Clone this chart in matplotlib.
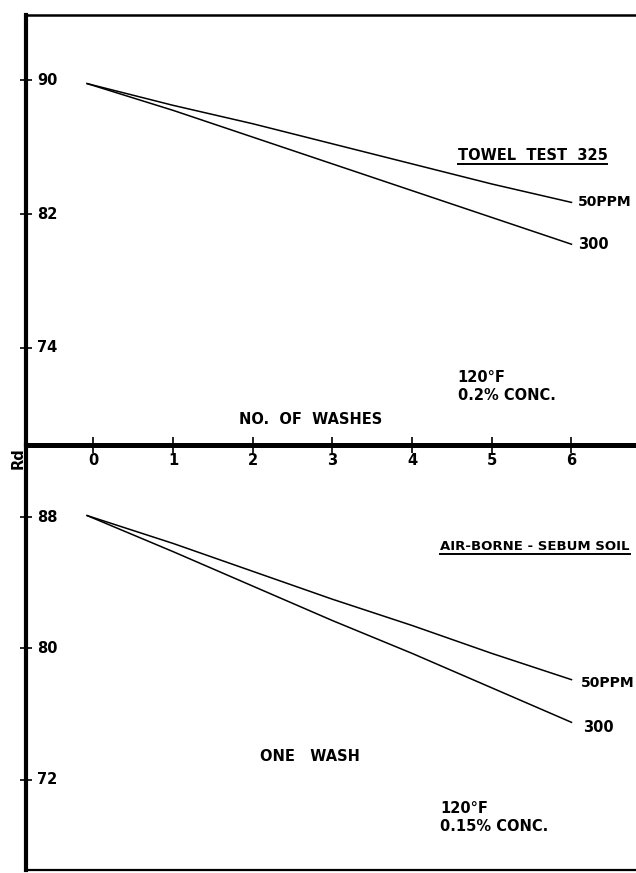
import matplotlib
matplotlib.use('Agg')
import matplotlib.pyplot as plt
import matplotlib.transforms as mtransforms
from matplotlib.lines import Line2D

# data
washes = [-0.08, 1, 2, 3, 4, 5, 6]
towel_50ppm = [89.8, 88.5, 87.4, 86.2, 85.0, 83.8, 82.7]
towel_300 = [89.8, 88.2, 86.6, 85.0, 83.4, 81.8, 80.2]
sebum_50ppm = [88.1, 86.4, 84.7, 83.0, 81.4, 79.7, 78.1]
sebum_300 = [88.1, 85.9, 83.8, 81.7, 79.7, 77.6, 75.5]

x_ticks = [0, 1, 2, 3, 4, 5, 6]
top_yticks = [90, 82, 74]
bot_yticks = [88, 80, 72]

plt.rcParams['font.family'] = ['DejaVu Sans']
fs = 10.5

fig = plt.figure(figsize=(6.36, 8.73), dpi=100)
L = 26 / 636
W = 1 - L
ax1 = fig.add_axes([L, (873 - 445) / 873, W, 430 / 873])
ax2 = fig.add_axes([L, 3 / 873, W, 425 / 873])
# keep the top axes (and its x tick labels) above the lower panel
ax1.set_zorder(2)
ax1.patch.set_visible(False)

for ax in (ax1, ax2):
    ax.set_xlim(-0.847, 6.81)
    ax.spines['right'].set_visible(False)
    ax.spines['left'].set_linewidth(3)

ax1.set_ylim(68.2, 93.9)
ax2.set_ylim(66.5, 92.4)

ax1.spines['top'].set_linewidth(1.8)
ax1.spines['bottom'].set_linewidth(3.6)
ax2.spines['top'].set_visible(False)
ax2.spines['bottom'].set_linewidth(1.6)

# curves
ax1.plot(washes, towel_50ppm, color='black', lw=1.1)
ax1.plot(washes, towel_300, color='black', lw=1.1)
ax2.plot(washes, sebum_50ppm, color='black', lw=1.1)
ax2.plot(washes, sebum_300, color='black', lw=1.1)

# x axis on the middle line
ax1.set_xticks(x_ticks)
ax1.set_xticklabels([str(v) for v in x_ticks], fontsize=fs, fontweight='bold')
ax1.tick_params(axis='x', direction='inout', length=11, width=1.2, pad=0)
ax2.set_xticks([])

# y ticks with labels inside the axis
for ax, ticks in ((ax1, top_yticks), (ax2, bot_yticks)):
    ax.set_yticks(ticks)
    ax.set_yticklabels([])
    ax.tick_params(axis='y', direction='inout', length=8, width=1.2)
    tr = mtransforms.blended_transform_factory(ax.transAxes, ax.transData)
    for v in ticks:
        ax.text(0.018, v, str(v), transform=tr, ha='left', va='center',
                fontsize=fs, fontweight='bold')

# curve labels
ax1.text(6.08, 82.7, '50PPM', fontsize=10, fontweight='bold', va='center')
ax1.text(6.08, 80.2, '300', fontsize=fs, fontweight='bold', va='center')
ax2.text(6.12, 77.9, '50PPM', fontsize=10, fontweight='bold', va='center')
ax2.text(6.14, 75.2, '300', fontsize=fs, fontweight='bold', va='center')

t1 = ax1.text(4.57, 85.5, 'TOWEL  TEST  325', fontsize=fs, fontweight='bold', va='center')
t2 = ax2.text(4.35, 86.2, 'AIR-BORNE - SEBUM SOIL', fontsize=9.5, fontweight='bold', va='center')

ax1.text(4.57, 72.7, '120°F\n0.2% CONC.', fontsize=fs, fontweight='bold', va='top',
         linespacing=1.25)
ax2.text(4.35, 70.7, '120°F\n0.15% CONC.', fontsize=fs, fontweight='bold', va='top',
         linespacing=1.25)
ax1.text(2.72, 69.7, 'NO.  OF  WASHES', fontsize=fs, fontweight='bold', ha='center', va='center')
ax2.text(2.72, 73.4, 'ONE   WASH', fontsize=fs, fontweight='bold', ha='center', va='center')

fig.text(18 / 636, 1 - 458 / 873, 'Rd', rotation=90, fontsize=fs, fontweight='bold',
         ha='center', va='center')

# underline the two titles
fig.canvas.draw()
for t in (t1, t2):
    bb = t.get_window_extent()
    y = bb.y0 - 1
    fig.add_artist(Line2D([bb.x0, bb.x1], [y, y], transform=None, color='black', lw=1.4))

fig.savefig('out.png', dpi=100)
